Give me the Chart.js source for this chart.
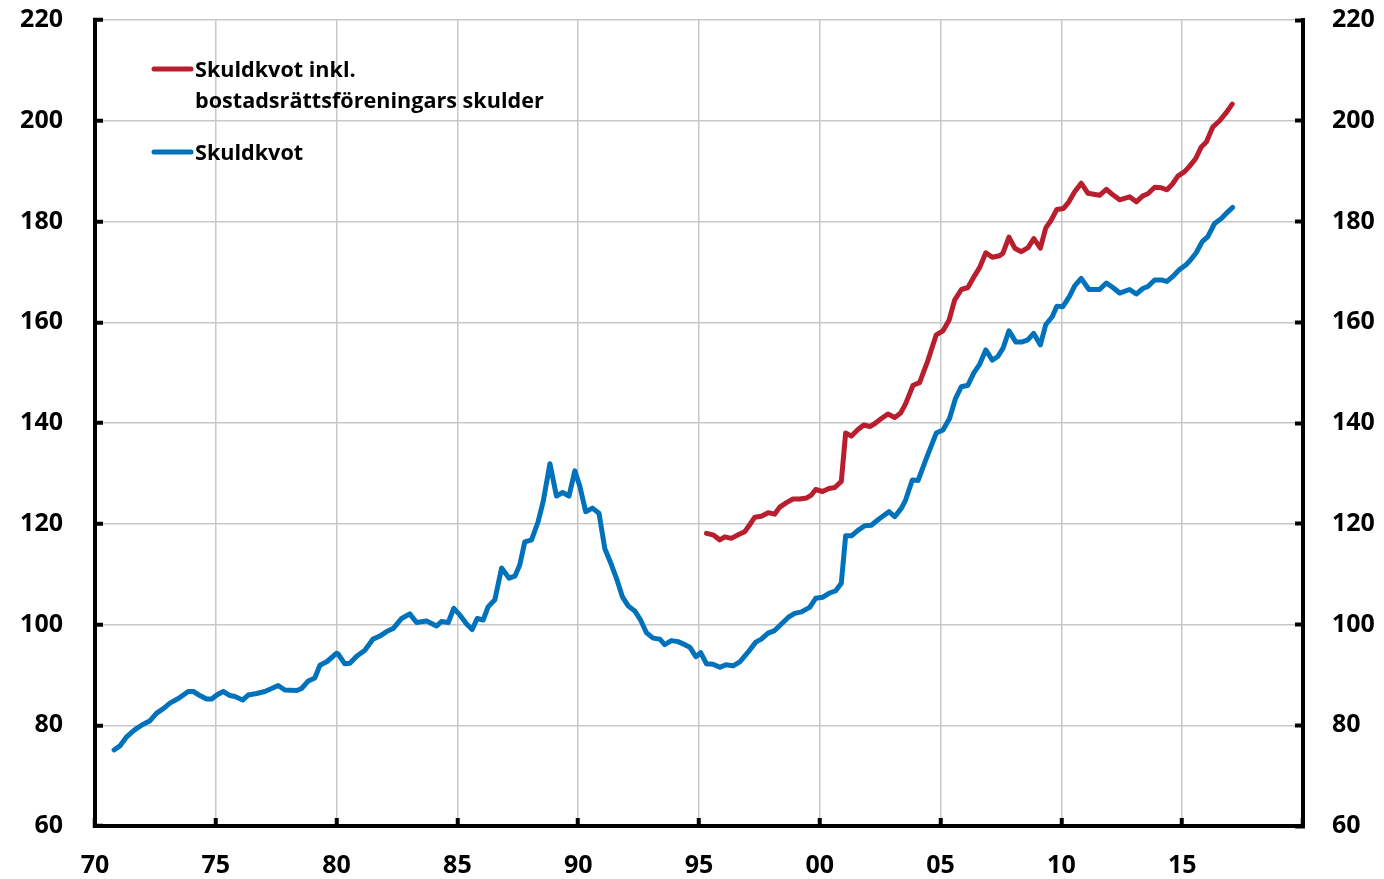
<!DOCTYPE html>
<html>
<head>
<meta charset="utf-8">
<script src="https://cdn.jsdelivr.net/npm/chart.js@4.4.1/dist/chart.umd.min.js"></script>
<style>
  html, body { margin: 0; padding: 0; background: #fff; }
  #c { display: block; }
</style>
</head>
<body>
<canvas id="c" width="1384" height="879"></canvas>
<script>
// ---- Data ----
const blueYears = [
  1970.79,1971.03,1971.31,1971.52,1971.73,1972.00,1972.28,1972.55,1972.83,1973.10,1973.45,1973.86,
  1974.07,1974.34,1974.62,1974.83,1975.04,1975.31,1975.59,1975.79,1976.11,1976.34,1976.69,1977.03,
  1977.31,1977.58,1977.86,1978.35,1978.55,1978.83,1979.10,1979.31,1979.59,1979.86,1980.00,1980.07,
  1980.34,1980.55,1980.83,1981.17,1981.51,1981.79,1982.07,1982.34,1982.69,1983.03,1983.31,1983.72,
  1984.14,1984.34,1984.62,1984.85,1985.10,1985.38,1985.61,1985.82,1986.07,1986.27,1986.55,1986.83,
  1987.14,1987.38,1987.58,1987.79,1988.07,1988.34,1988.55,1988.83,1989.10,1989.35,1989.62,1989.86,
  1990.07,1990.31,1990.59,1990.86,1991.10,1991.38,1991.61,1991.83,1992.07,1992.34,1992.58,1992.82,
  1993.10,1993.38,1993.58,1993.86,1994.13,1994.41,1994.62,1994.87,1995.07,1995.31,1995.58,1995.86,
  1996.11,1996.41,1996.69,1997.03,1997.35,1997.58,1997.86,1998.13,1998.41,1998.69,1998.96,1999.24,
  1999.58,1999.83,2000.11,2000.38,2000.66,2000.89,2001.07,2001.31,2001.58,2001.86,2002.13,2002.41,
  2002.86,2003.10,2003.38,2003.55,2003.83,2004.07,2004.41,2004.82,2005.10,2005.37,2005.62,2005.86,
  2006.13,2006.37,2006.62,2006.87,2007.14,2007.37,2007.58,2007.83,2008.11,2008.38,2008.61,2008.85,
  2009.13,2009.35,2009.62,2009.81,2010.06,2010.34,2010.55,2010.82,2011.14,2011.58,2011.86,2012.13,
  2012.41,2012.82,2013.10,2013.37,2013.58,2013.86,2014.13,2014.37,2014.59,2014.88,2015.16,2015.37,
  2015.58,2015.83,2016.06,2016.34,2016.62,2016.82,2017.09
];
const blueValues = [
  75.1,75.9,77.7,78.6,79.4,80.2,80.9,82.4,83.3,84.4,85.3,86.7,
  86.7,85.9,85.2,85.2,86.0,86.7,85.9,85.7,85.0,86.0,86.3,86.7,
  87.3,87.9,87.0,86.9,87.3,88.8,89.4,91.9,92.6,93.7,94.3,94.1,
  92.2,92.3,93.7,94.9,97.1,97.7,98.6,99.2,101.2,102.1,100.4,100.7,
  99.7,100.6,100.4,103.2,101.9,100.1,99.0,101.2,100.9,103.5,104.9,111.2,
  109.2,109.6,111.8,116.4,116.8,120.4,124.4,131.9,125.5,126.2,125.5,130.5,
  127.4,122.4,123.1,122.1,115.1,111.8,108.8,105.5,103.7,102.7,100.9,98.4,
  97.3,97.1,96.0,96.8,96.6,96.0,95.5,93.6,94.4,92.2,92.1,91.5,
  92.0,91.8,92.6,94.5,96.5,97.1,98.3,98.8,100.1,101.4,102.2,102.5,
  103.4,105.2,105.4,106.2,106.7,108.2,117.6,117.6,118.7,119.6,119.7,120.8,
  122.4,121.4,123.1,124.7,128.7,128.6,133.0,138.0,138.6,140.9,144.9,147.2,
  147.5,149.9,151.7,154.5,152.5,153.2,154.8,158.3,156.1,156.1,156.5,157.8,
  155.5,159.5,161.1,163.2,163.1,165.2,167.2,168.7,166.5,166.5,167.8,166.9,
  165.8,166.5,165.6,166.7,167.1,168.4,168.4,168.1,169.0,170.4,171.4,172.5,
  173.8,176.0,177.0,179.6,180.6,181.6,182.8
];
const redYears = [
  1995.31,1995.58,1995.86,1996.07,1996.34,1996.62,1996.89,1997.10,1997.31,1997.58,1997.86,1998.13,
  1998.34,1998.62,1998.89,1999.17,1999.44,1999.65,1999.83,2000.11,2000.38,2000.62,2000.89,2001.07,
  2001.31,2001.58,2001.82,2002.07,2002.28,2002.55,2002.82,2003.10,2003.35,2003.55,2003.86,2004.13,
  2004.48,2004.82,2005.10,2005.35,2005.58,2005.86,2006.13,2006.34,2006.62,2006.87,2007.14,2007.44,
  2007.58,2007.83,2008.07,2008.34,2008.62,2008.86,2009.13,2009.35,2009.58,2009.81,2010.09,2010.31,
  2010.55,2010.82,2011.10,2011.58,2011.86,2012.13,2012.41,2012.82,2013.10,2013.37,2013.58,2013.86,
  2014.13,2014.37,2014.59,2014.82,2015.10,2015.31,2015.56,2015.79,2016.00,2016.27,2016.55,2016.82,
  2017.07
];
const redValues = [
  118.1,117.8,116.8,117.4,117.1,117.8,118.4,119.8,121.3,121.5,122.2,121.9,
  123.3,124.2,124.9,124.9,125.1,125.7,126.8,126.4,127.0,127.2,128.4,138.0,
  137.4,138.7,139.6,139.3,139.9,140.9,141.8,141.1,142.0,143.8,147.5,148.0,
  152.5,157.5,158.3,160.4,164.4,166.5,166.9,168.7,170.9,173.8,172.9,173.2,
  173.7,176.9,174.7,174.0,174.8,176.6,174.7,178.7,180.3,182.4,182.6,183.9,
  185.9,187.6,185.6,185.2,186.4,185.3,184.3,184.9,183.9,185.1,185.5,186.8,
  186.7,186.3,187.4,189.0,189.9,191.0,192.5,194.8,195.8,198.8,200.0,201.6,
  203.3
];
const xTickValues = [1970,1975,1980,1985,1990,1995,2000,2005,2010,2015,2020];
const xTickLabels = ['70','75','80','85','90','95','00','05','10','15',''];
const yTickValues = [60,80,100,120,140,160,180,200,220];
const seriesNames = ['Skuldkvot inkl.', 'bostadsrättsföreningars skulder', 'Skuldkvot'];

const RED = '#B81E2D';
const BLUE = '#0071BB';
const FONT = "'Open Sans', sans-serif";

const toPoints = (xs, ys) => xs.map((x, i) => ({ x: x, y: ys[i] }));

const legendPlugin = {
  id: 'customLegend',
  afterDraw(chart) {
    const ctx = chart.ctx;
    const a = chart.chartArea;
    ctx.save();
    ctx.lineCap = 'round';
    ctx.lineWidth = 5;
    ctx.strokeStyle = RED;
    ctx.beginPath(); ctx.moveTo(a.left + 59, a.top + 49); ctx.lineTo(a.left + 96, a.top + 49); ctx.stroke();
    ctx.strokeStyle = BLUE;
    ctx.beginPath(); ctx.moveTo(a.left + 59, a.top + 132); ctx.lineTo(a.left + 96, a.top + 132); ctx.stroke();
    ctx.fillStyle = '#000';
    ctx.font = "bold 21.6px " + FONT;
    ctx.textAlign = 'left';
    ctx.textBaseline = 'alphabetic';
    ctx.fillText(seriesNames[0], a.left + 100, a.top + 57);
    ctx.fillText(seriesNames[1], a.left + 100, a.top + 88);
    ctx.fillText(seriesNames[2], a.left + 100, a.top + 140);
    ctx.restore();
  }
};

const tickFont = { family: FONT, weight: 'bold', size: 25 };
const noVPad = (w) => (scale) => { scale.width = w; scale.paddingTop = 0; scale.paddingBottom = 0; };

new Chart(document.getElementById('c'), {
  type: 'line',
  data: {
    datasets: [
      {
        label: 'Skuldkvot',
        data: toPoints(blueYears, blueValues),
        borderColor: BLUE,
        borderWidth: 5,
        pointRadius: 0,
        tension: 0,
        borderJoinStyle: 'round',
        borderCapStyle: 'round',
        fill: false
      },
      {
        label: 'Skuldkvot inkl. bostadsrättsföreningars skulder',
        data: toPoints(redYears, redValues),
        borderColor: RED,
        borderWidth: 5,
        pointRadius: 0,
        tension: 0,
        borderJoinStyle: 'round',
        borderCapStyle: 'round',
        fill: false
      }
    ]
  },
  options: {
    responsive: false,
    animation: false,
    devicePixelRatio: 1,
    layout: { padding: { top: 20, left: 0, right: 0, bottom: 0 } },
    plugins: { legend: { display: false }, tooltip: { enabled: false } },
    scales: {
      x: {
        type: 'linear',
        min: 1970,
        max: 2020,
        afterBuildTicks(scale) { scale.ticks = xTickValues.map(v => ({ value: v })); },
        afterFit(scale) { scale.height = 53; scale.paddingLeft = 0; scale.paddingRight = 0; },
        ticks: {
          autoSkip: false,
          maxRotation: 0,
          padding: 33,
          color: '#000',
          font: tickFont,
          callback(value) { const i = xTickValues.indexOf(value); return i >= 0 ? xTickLabels[i] : ''; }
        },
        grid: { color: '#c8c8c8', lineWidth: 1.5, drawTicks: true, tickLength: -8, tickColor: '#000', tickWidth: 4 },
        border: { color: '#000', width: 4 }
      },
      y: {
        position: 'left',
        min: 60,
        max: 220,
        afterBuildTicks(scale) { scale.ticks = yTickValues.map(v => ({ value: v })); },
        afterFit: noVPad(95),
        ticks: { padding: 40, color: '#000', font: tickFont },
        grid: { color: '#c8c8c8', lineWidth: 1.5, drawTicks: true, tickLength: -8, tickColor: '#000', tickWidth: 4 },
        border: { color: '#000', width: 4 }
      },
      y2: {
        position: 'right',
        min: 60,
        max: 220,
        afterBuildTicks(scale) { scale.ticks = yTickValues.map(v => ({ value: v })); },
        afterFit: noVPad(81),
        ticks: { padding: 37, color: '#000', font: tickFont },
        grid: { drawOnChartArea: false, drawTicks: true, tickLength: -8, tickColor: '#000', tickWidth: 4 },
        border: { color: '#000', width: 4 }
      }
    }
  },
  plugins: [legendPlugin]
});
</script>
</body>
</html>
